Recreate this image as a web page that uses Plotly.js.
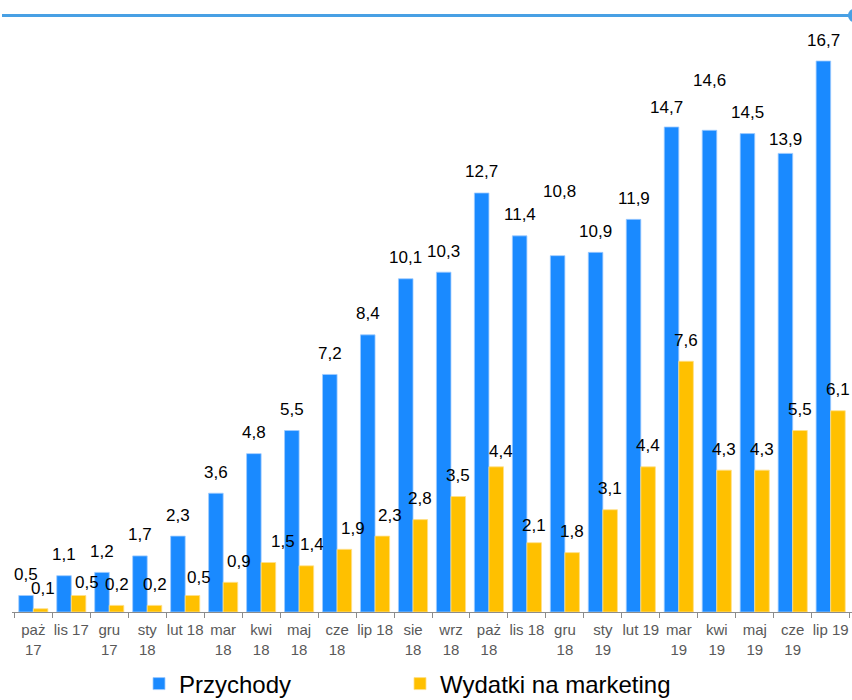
<!DOCTYPE html>
<html>
<head>
<meta charset="utf-8">
<script src="https://cdn.plot.ly/plotly-3.0.1.min.js"></script>
<style>
  html, body { margin: 0; padding: 0; background: #ffffff; }
  #chart { width: 852px; height: 700px; }
</style>
</head>
<body>
<div id="chart"></div>
<script>
// ---- data ----
const categories = ['paż 17','lis 17','gru 17','sty 18','lut 18','mar 18','kwi 18','maj 18','cze 18','lip 18','sie 18','wrz 18','paż 18','lis 18','gru 18','sty 19','lut 19','mar 19','kwi 19','maj 19','cze 19','lip 19'];
const tickLabels = ['paż<br>17','lis 17','gru<br>17','sty<br>18','lut 18','mar<br>18','kwi<br>18','maj<br>18','cze<br>18','lip 18','sie<br>18','wrz<br>18','paż<br>18','lis 18','gru<br>18','sty<br>19','lut 19','mar<br>19','kwi<br>19','maj<br>19','cze<br>19','lip 19'];
const przychody = [0.5,1.1,1.2,1.7,2.3,3.6,4.8,5.5,7.2,8.4,10.1,10.3,12.7,11.4,10.8,10.9,11.9,14.7,14.6,14.5,13.9,16.7];
const marketing = [0.1,0.5,0.2,0.2,0.5,0.9,1.5,1.4,1.9,2.3,2.8,3.5,4.4,2.1,1.8,3.1,4.4,7.6,4.3,4.3,5.5,6.1];
const seriesNames = ['Przychody','Wydatki na marketing'];

// ---- styling ----
const BLUE = '#1A8AFF';
const YELLOW = '#FFC000';
const BARGAP = 0.233;
// pixel nudges of individual data labels (label placement, as in the original)
const blueNudge = { 'gru 18': [2, 43], 'mar 19': [-5, -2], 'kwi 19': [0, 29], 'cze 19': [0, -7] };
const yellowNudge = { 'paż 17': [2, -1], 'lis 17': [8, -8], 'lut 18': [6, -3], 'mar 18': [9, 0], 'kwi 18': [15, 0], 'maj 18': [6, 0],
                      'cze 18': [9, 0], 'lip 18': [8, 0], 'paż 18': [5, -6], 'lis 18': [0, -4] };

const fmt = v => v.toFixed(1).replace('.', ',');

const traces = [
  { type: 'bar', name: seriesNames[0], x: categories, y: przychody, legend: 'legend',
    marker: { color: BLUE, line: { color: '#9fcbff', width: 0.8 } }, hoverinfo: 'x+y' },
  { type: 'bar', name: seriesNames[1], x: categories, y: marketing, legend: 'legend2',
    marker: { color: YELLOW, line: { color: '#ffe08a', width: 0.8 } }, hoverinfo: 'x+y' }
];

const L = 12, R = 0, T = 30, B = 88;
const plotW = 852 - L - R;
const catPx = plotW / categories.length;
const halfBar = catPx * (1 - BARGAP) / 4;
const yTop = przychody[przychody.length - 1] * (700 - T - B) / 551;

const labelFont = { family: 'Liberation Sans, Arial, sans-serif', size: 17, color: '#000000' };
const annotations = [];
categories.forEach((c, i) => {
  const nb = blueNudge[c] || [0, 0];
  annotations.push({ x: c, y: przychody[i], xref: 'x', yref: 'y', text: fmt(przychody[i]),
    showarrow: false, xanchor: 'center', yanchor: 'middle',
    xshift: -halfBar + nb[0], yshift: 21 + nb[1], font: labelFont });
});
categories.forEach((c, i) => {
  const ny = yellowNudge[c] || [0, 0];
  annotations.push({ x: c, y: marketing[i], xref: 'x', yref: 'y', text: fmt(marketing[i]),
    showarrow: false, xanchor: 'center', yanchor: 'middle',
    xshift: halfBar + ny[0], yshift: 21 + ny[1], font: labelFont });
});

const plotH = 700 - T - B;
const lineY = 1 + (T - 15.5) / plotH;

const legendBase = { orientation: 'h', xref: 'container', yref: 'container', xanchor: 'left',
                     y: 0.0550, yanchor: 'top', font: { size: 24, color: '#000000' },
                     bgcolor: 'rgba(0,0,0,0)', itemwidth: 30 };

const layout = {
  width: 852, height: 700,
  margin: { l: L, r: R, t: T, b: B, pad: 0 },
  paper_bgcolor: '#ffffff', plot_bgcolor: '#ffffff',
  font: { family: 'Liberation Sans, Arial, sans-serif', color: '#000000' },
  barmode: 'group', bargap: BARGAP, bargroupgap: 0,
  showlegend: true,
  legend: Object.assign({}, legendBase, { x: 139 / 852 }),
  legend2: Object.assign({}, legendBase, { x: 400 / 852 }),
  xaxis: {
    type: 'category', categoryorder: 'array', categoryarray: categories,
    tickmode: 'array', tickvals: categories, ticktext: tickLabels,
    tickson: 'boundaries', ticks: 'outside', ticklen: 5, tickcolor: '#8c8c8c', tickwidth: 1,
    ticklabelstandoff: 4,
    showline: true, linecolor: '#8c8c8c', linewidth: 1.3,
    showgrid: false, zeroline: false, tickangle: 0,
    tickfont: { size: 15, color: '#595959' }, fixedrange: true
  },
  yaxis: { range: [0, yTop], visible: false, showgrid: false, zeroline: false, fixedrange: true },
  annotations: annotations,
  shapes: [
    { type: 'line', xref: 'paper', yref: 'paper', x0: (2 - L) / plotW, x1: (852 - L) / plotW,
      y0: lineY, y1: lineY, line: { color: '#48A0E4', width: 3 } },
    { type: 'circle', xref: 'paper', yref: 'paper', xsizemode: 'pixel', ysizemode: 'pixel',
      xanchor: (855 - L) / plotW, yanchor: lineY, x0: -7, x1: 7, y0: -7, y1: 7,
      fillcolor: '#48A0E4', line: { color: '#48A0E4', width: 0 } }
  ]
};

Plotly.newPlot('chart', traces, layout, { displayModeBar: false, staticPlot: true });
</script>
</body>
</html>
